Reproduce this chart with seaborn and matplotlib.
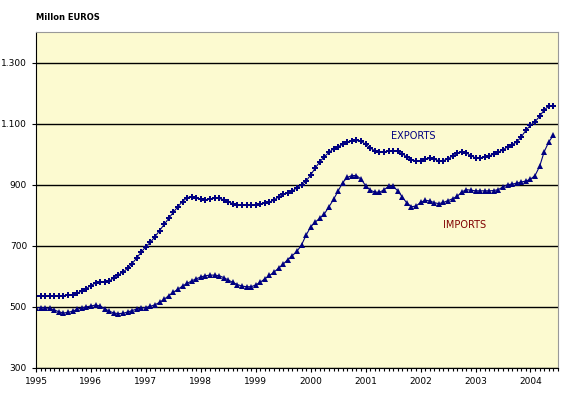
import numpy as np
import pandas as pd
import matplotlib
matplotlib.use("Agg")
import matplotlib.pyplot as plt
import seaborn as sns
from matplotlib.ticker import FuncFormatter, MultipleLocator

# monthly values, Jan 1995 .. Jun 2004 (million euros)
exports = [536, 536, 536, 537, 536, 537, 537, 538, 540, 545, 552, 560,
           570, 578, 581, 582, 585, 595, 605, 614, 626, 642, 660, 680,
           697, 712, 730, 750, 770, 790, 810, 828, 845, 858, 860, 856,
           852, 851, 853, 856, 855, 851, 844, 838, 834, 833, 833, 833,
           833, 836, 840, 843, 850, 860, 868, 874, 880, 890, 900, 912,
           932, 955, 975, 992, 1006, 1018, 1025, 1032, 1040, 1044, 1045, 1042,
           1033, 1020, 1011, 1008, 1008, 1010, 1012, 1009, 1001, 991, 982, 978,
           978, 983, 986, 983, 979, 979, 985, 994, 1003, 1008, 1004, 995,
           988, 988, 991, 995, 1000, 1007, 1014, 1024, 1031, 1040, 1057, 1078,
           1095, 1106, 1124, 1145, 1157, 1157]
imports = [497, 498, 497, 495, 490, 484, 480, 482, 486, 492, 497, 500,
           503, 506, 503, 494, 486, 480, 478, 479, 483, 488, 493, 496,
           498, 502, 507, 515, 525, 537, 548, 558, 568, 577, 585, 592,
           598, 602, 604, 604, 602, 596, 588, 580, 573, 568, 566, 566,
           572, 581, 592, 603, 614, 627, 640, 655, 668, 682, 703, 735,
           762, 778, 790, 805, 828, 852, 880, 907, 924, 930, 930, 918,
           897, 882, 876, 875, 883, 895, 895, 880, 860, 840, 828, 830,
           842, 849, 847, 841, 838, 842, 848, 854, 862, 876, 884, 882,
           880, 880, 880, 880, 881, 884, 893, 900, 902, 905, 909, 912,
           918, 930, 960, 1008, 1040, 1062]
years = [1995, 1996, 1997, 1998, 1999, 2000, 2001, 2002, 2003, 2004]

df = pd.DataFrame({"month": np.arange(len(exports)),
                   "exports": exports, "imports": imports})

navy = "#000080"

fig = plt.figure(figsize=(5.67, 3.95), dpi=100)
ax = fig.add_axes([0.0635, 0.0684, 0.9205, 0.8506])
ax.set_facecolor("#FCFAD0")

sns.lineplot(data=df, x="month", y="exports", ax=ax, color=navy, lw=0.8,
             marker="P", markersize=4.5, markeredgewidth=0)
sns.lineplot(data=df, x="month", y="imports", ax=ax, color=navy, lw=0.8,
             marker="^", markersize=4, markeredgewidth=0)

ax.set_xlim(0, 114)
ax.set_ylim(300, 1400)
ax.set_yticks([300, 500, 700, 900, 1100, 1300])
ax.yaxis.set_major_formatter(FuncFormatter(lambda v, p: f"{int(v):,}".replace(",", ".")))
ax.set_xticks([12 * i for i in range(len(years))])
ax.set_xticklabels([str(y) for y in years])
ax.xaxis.set_minor_locator(MultipleLocator(1))
ax.grid(axis="y", color="black", lw=1)
ax.set_axisbelow(True)
ax.tick_params(axis="both", labelsize=6.5, length=3, width=0.8, color="black")
ax.tick_params(axis="x", which="minor", length=2, width=0.8)
ax.set_xlabel("")
ax.set_ylabel("")

for s in ["left", "bottom"]:
    ax.spines[s].set_color("black")
for s in ["top", "right"]:
    ax.spines[s].set_color("#999999")

fig.text(0.064, 0.955, "Millon EUROS", fontsize=6, fontweight="bold", ha="left", va="center")
ax.text(82.5, 1060, "EXPORTS", color=navy, fontsize=7, ha="center", va="center")
ax.text(93.5, 768, "IMPORTS", color="#800000", fontsize=7, ha="center", va="center")

fig.savefig("out.png", dpi=100)
